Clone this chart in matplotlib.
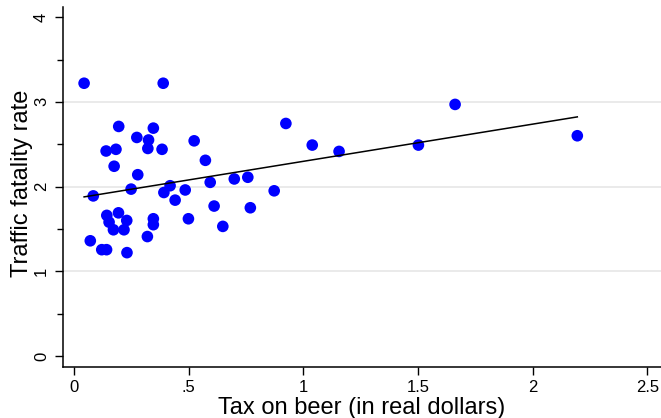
import numpy as np
import matplotlib
matplotlib.use("Agg")
import matplotlib.pyplot as plt
from matplotlib.ticker import FixedLocator

# %% Data: beer tax vs. traffic fatality rate, one point per state
beer_tax = [0.044, 0.389, 1.662, 2.195, 1.502, 1.039, 1.156, 0.924,
            0.195, 0.346, 0.274, 0.325, 0.524, 0.140, 0.183, 0.322,
            0.384, 0.175, 0.573, 0.278, 0.249, 0.084, 0.419, 0.392,
            0.441, 0.485, 0.594, 0.699, 0.758, 0.873, 0.611, 0.769,
            0.143, 0.194, 0.153, 0.230, 0.172, 0.218, 0.346, 0.346,
            0.499, 0.649, 0.320, 0.071, 0.121, 0.142, 0.231]
fatality_rate = [3.22, 3.22, 2.97, 2.60, 2.49, 2.49, 2.415, 2.745,
                 2.71, 2.69, 2.58, 2.55, 2.54, 2.42, 2.44, 2.45,
                 2.44, 2.24, 2.31, 2.14, 1.97, 1.89, 2.01, 1.93,
                 1.84, 1.96, 2.05, 2.09, 2.11, 1.95, 1.77, 1.75,
                 1.66, 1.69, 1.58, 1.60, 1.49, 1.49, 1.62, 1.55,
                 1.62, 1.53, 1.41, 1.36, 1.255, 1.255, 1.22]

# OLS fit: fatality_rate = intercept + slope * beer_tax
intercept = 1.859
slope = 0.439

x_ticks = [0, 0.5, 1, 1.5, 2, 2.5]
x_ticklabels = ["0", ".5", "1", "1.5", "2", "2.5"]
y_ticks = [0, 1, 2, 3, 4]

# %% Plot
plt.rcParams["font.family"] = ["Liberation Sans", "DejaVu Sans"]
W, H = 661, 418
fig = plt.figure(figsize=(W / 100, H / 100), dpi=100)
ax = fig.add_axes([63 / W, 51 / H, 1 - 63 / W, 360 / H])

x = np.array(beer_tax)
ax.scatter(x, fatality_rate, s=70, color="#0000ff", edgecolors="none", zorder=3)

fit_x = np.array([x.min(), x.max()])
ax.plot(fit_x, intercept + slope * fit_x, color="black", lw=1.1, zorder=4)

ax.set_xlim(-0.048, 2.56)
ax.set_ylim(-0.13, 4.12)

ax.set_xticks(x_ticks)
ax.set_xticklabels(x_ticklabels)
ax.set_yticks(y_ticks)
ax.yaxis.set_minor_locator(FixedLocator([0.5, 1.5, 2.5, 3.5]))
for lab in ax.get_yticklabels():
    lab.set_rotation(90)
    lab.set_va("center")

ax.tick_params(axis="both", which="major", labelsize=12, length=6, width=1,
               color="black", direction="out")
ax.tick_params(axis="x", pad=3.5)
ax.tick_params(axis="y", pad=4)
ax.tick_params(axis="y", which="minor", length=4, width=1)

for y in [1, 2, 3]:
    ax.axhline(y, color="#e6e6e6", lw=1.2, zorder=1)

ax.spines["top"].set_visible(False)
ax.spines["right"].set_visible(False)
ax.spines["left"].set_linewidth(1.1)
ax.spines["bottom"].set_linewidth(1.1)

ax.set_xlabel("Tax on beer (in real dollars)", fontsize=17, va="baseline")
ax.xaxis.set_label_coords(361.5 / W, 4 / H, transform=fig.transFigure)
ax.set_ylabel("Traffic fatality rate", fontsize=17, va="baseline")
ax.yaxis.set_label_coords(28 / W, 1 - 183.5 / H, transform=fig.transFigure)

fig.savefig("out.png", dpi=100)
